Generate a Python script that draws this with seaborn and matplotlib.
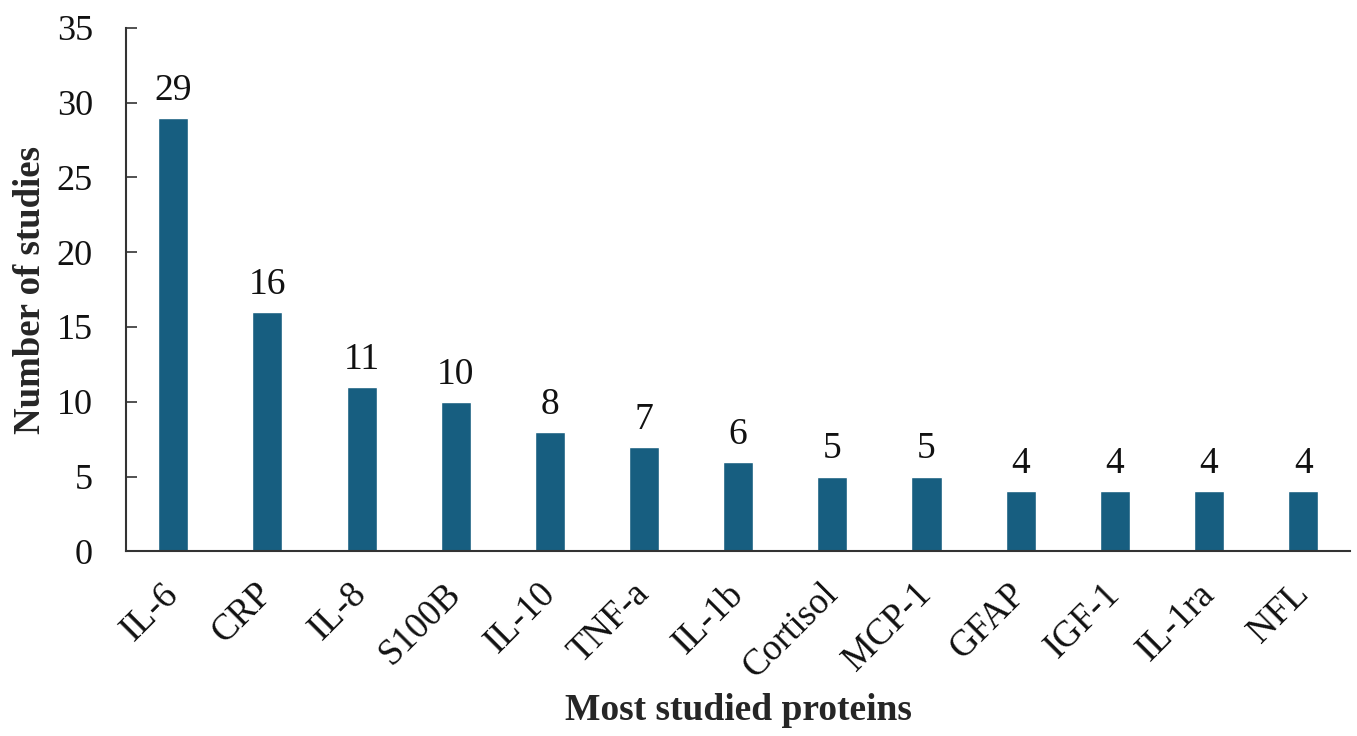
import matplotlib
matplotlib.use("Agg")
import matplotlib.pyplot as plt
import seaborn as sns
import pandas as pd

proteins = ["IL-6", "CRP", "IL-8", "S100B", "IL-10", "TNF-a", "IL-1b",
            "Cortisol", "MCP-1", "GFAP", "IGF-1", "IL-1ra", "NFL"]
counts = [29, 16, 11, 10, 8, 7, 6, 5, 5, 4, 4, 4, 4]
yticks = [0, 5, 10, 15, 20, 25, 30, 35]

sns.set_theme(style="white")
plt.rcParams["font.family"] = ["Liberation Serif", "DejaVu Serif"]

df = pd.DataFrame({"protein": proteins, "count": counts})

fig = plt.figure(figsize=(13.57, 7.36), dpi=100)
ax = fig.add_axes([0.093, 0.251, 0.902, 0.711])
sns.barplot(data=df, x="protein", y="count", color="#175e80", width=0.32,
            saturation=1, ax=ax)

for i, v in enumerate(counts):
    ax.annotate(str(v), xy=(i, v), xytext=(0, 13), textcoords="offset points",
                ha="center", va="baseline", fontsize=27, color="#111111")

ax.set_ylim(0, 35)
ax.set_xlim(-0.5, len(proteins) - 0.5)
ax.set_yticks(yticks)
ax.tick_params(axis="y", labelsize=26, length=8, width=1.2, direction="in",
               left=True, colors="#333333", labelcolor="#111111", pad=24)
ax.tick_params(axis="x", labelsize=26.5, bottom=False, labelcolor="#111111", pad=21)
plt.setp(ax.get_xticklabels(), rotation=45, ha="right", va="center",
         rotation_mode="anchor")

for s in ["top", "right"]:
    ax.spines[s].set_visible(False)
for s in ["left", "bottom"]:
    ax.spines[s].set_color("#333333")
    ax.spines[s].set_linewidth(1.5)

ax.set_xlabel("Most studied proteins", fontsize=27, fontweight="bold", labelpad=6)
ax.set_ylabel("Number of studies", fontsize=26.5, fontweight="bold", labelpad=6)

fig.savefig("out.png", dpi=100)
